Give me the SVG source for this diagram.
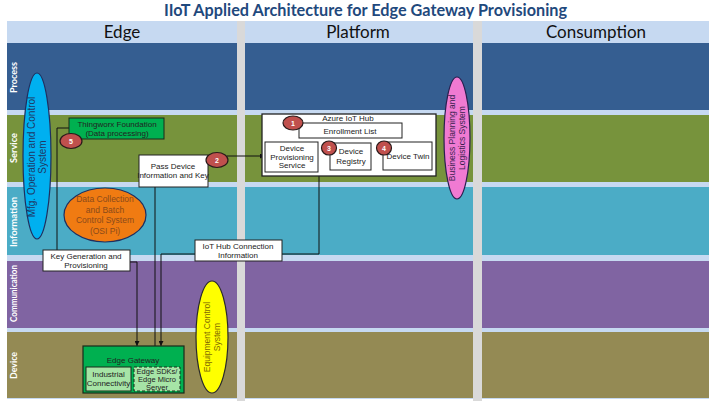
<svg xmlns="http://www.w3.org/2000/svg" width="715" height="402" viewBox="0 0 715 402">
<defs>
<marker id="arr" viewBox="0 0 10 10" refX="10" refY="5" markerWidth="5" markerHeight="5" orient="auto-start-reverse">
<path d="M0,0 L10,5 L0,10 z" fill="#111"/>
</marker>
</defs>
<style>
.title{font-family:"Lato","Liberation Sans",sans-serif;font-weight:bold;font-size:17px;fill:#1f497d}
.col{font-family:"Lato","Liberation Sans",sans-serif;font-size:17px;fill:#111}
.row{font-family:"Lato","Liberation Sans",sans-serif;font-weight:bold;font-size:9.5px;fill:#fff}
.t{font-family:"Liberation Sans",Arial,sans-serif;font-size:8px;fill:#222;text-anchor:middle}
.box{fill:#fff;stroke:#222;stroke-width:1}
.badge{fill:#c0504d;stroke:#2a1a1a;stroke-width:1.2}
.bt{font-family:"Liberation Sans",Arial,sans-serif;font-size:7px;font-weight:bold;fill:#fff;text-anchor:middle}
.ln{fill:none;stroke:#111;stroke-width:1}
</style>
<rect x="0" y="0" width="715" height="402" fill="#fff"/>
<text class="title" x="365.5" y="16" text-anchor="middle" textLength="403" lengthAdjust="spacingAndGlyphs">IIoT Applied Architecture for Edge Gateway Provisioning</text>
<g id="lanes">
<rect x="7" y="21" width="702" height="378" fill="#c6d9f1"/>
<rect x="237" y="21" width="8" height="380" fill="#d9d9d9"/>
<rect x="473" y="21" width="9" height="380" fill="#d9d9d9"/>
<g id="bands-edge">
<rect x="7" y="43" width="230" height="67" fill="#355e91"/>
<rect x="7" y="115" width="230" height="67" fill="#77933c"/>
<rect x="7" y="187" width="230" height="68" fill="#4bacc6"/>
<rect x="7" y="261" width="230" height="67" fill="#8064a2"/>
<rect x="7" y="332" width="230" height="66" fill="#948a54"/>
</g>
<g id="bands-platform">
<rect x="245" y="43" width="228" height="67" fill="#355e91"/>
<rect x="245" y="115" width="228" height="67" fill="#77933c"/>
<rect x="245" y="187" width="228" height="68" fill="#4bacc6"/>
<rect x="245" y="261" width="228" height="67" fill="#8064a2"/>
<rect x="245" y="332" width="228" height="66" fill="#948a54"/>
</g>
<g id="bands-consumption">
<rect x="482" y="43" width="227" height="67" fill="#355e91"/>
<rect x="482" y="115" width="227" height="67" fill="#77933c"/>
<rect x="482" y="187" width="227" height="68" fill="#4bacc6"/>
<rect x="482" y="261" width="227" height="67" fill="#8064a2"/>
<rect x="482" y="332" width="227" height="66" fill="#948a54"/>
</g>
<text class="col" x="122" y="38" text-anchor="middle">Edge</text>
<text class="col" x="358" y="38" text-anchor="middle">Platform</text>
<text class="col" x="596" y="38" text-anchor="middle">Consumption</text>
<text class="row" transform="translate(17,77.5) rotate(-90)" text-anchor="middle" textLength="31" lengthAdjust="spacingAndGlyphs">Process</text>
<text class="row" transform="translate(17,148) rotate(-90)" text-anchor="middle" textLength="30" lengthAdjust="spacingAndGlyphs">Service</text>
<text class="row" transform="translate(17,222) rotate(-90)" text-anchor="middle" textLength="50" lengthAdjust="spacingAndGlyphs">Information</text>
<text class="row" transform="translate(17,293.5) rotate(-90)" text-anchor="middle" textLength="57" lengthAdjust="spacingAndGlyphs">Communication</text>
<text class="row" transform="translate(17,365.5) rotate(-90)" text-anchor="middle" textLength="27" lengthAdjust="spacingAndGlyphs">Device</text>
</g>
<g id="connectors">
<polyline class="ln" points="69,128 57,128 57,250"/>
<polyline class="ln" points="130,262 137,262 137,346" marker-end="url(#arr)"/>
<line class="ln" x1="155" y1="187" x2="155" y2="346"/>
<line class="ln" x1="227" y1="156" x2="265" y2="156" marker-end="url(#arr)"/>
<polyline class="ln" points="319,176 319,254 161,254 161,346" marker-end="url(#arr)"/>
<line class="ln" x1="318" y1="157" x2="330" y2="157" marker-start="url(#arr)" marker-end="url(#arr)"/>
<line class="ln" x1="371" y1="156" x2="383" y2="156" marker-start="url(#arr)" marker-end="url(#arr)"/>
</g>
<g id="mfg">
<ellipse cx="37" cy="156" rx="14" ry="83" fill="#00b0f0" stroke="#1f2f5f" stroke-width="1.2"/>
<text class="t" style="font-size:10px;fill:#1f3864" transform="translate(37,157) rotate(-90)"><tspan x="0" y="-2.5">Mfg. Operation and Control</tspan><tspan x="0" y="9">System</tspan></text>
</g>
<g id="thingworx">
<rect x="69" y="118" width="95" height="21" fill="#00b050" stroke="#1a2a1a"/>
<text class="t" x="117" y="127">Thingworx Foundation</text>
<text class="t" x="117" y="136">(Data processing)</text>
<ellipse class="badge" cx="71" cy="141" rx="11" ry="7.5"/>
<text class="bt" x="71" y="143.5">5</text>
</g>
<g id="pass-device">
<rect class="box" x="139" y="155" width="69" height="32"/>
<text class="t" x="173" y="169">Pass Device</text>
<text class="t" x="173" y="178">Information and Key</text>
<ellipse class="badge" cx="217" cy="160" rx="11" ry="7.5"/>
<text class="bt" x="217" y="162.5">2</text>
</g>
<g id="azure-hub">
<rect x="262" y="114" width="174" height="62" fill="#fff" stroke="#222" stroke-width="1.3"/>
<text class="t" x="348" y="121">Azure IoT Hub</text>
<g id="enrollment">
<rect class="box" x="299" y="123" width="103" height="15"/>
<text class="t" x="350" y="134">Enrollment List</text>
<ellipse class="badge" cx="293" cy="123" rx="10" ry="7"/>
<text class="bt" x="293" y="125.5">1</text>
</g>
<g id="dps">
<rect class="box" x="265" y="142" width="53" height="30"/>
<text class="t" x="292" y="151">Device</text>
<text class="t" x="292" y="159.5">Provisioning</text>
<text class="t" x="292" y="168">Service</text>
</g>
<g id="registry">
<rect class="box" x="330" y="143" width="41" height="27"/>
<text class="t" x="351" y="154">Device</text>
<text class="t" x="351" y="163.5">Registry</text>
<ellipse class="badge" cx="329" cy="148" rx="7.5" ry="7"/>
<text class="bt" x="329" y="150.5">3</text>
</g>
<g id="twin">
<rect class="box" x="383" y="142" width="49" height="28"/>
<text class="t" x="408" y="159">Device Twin</text>
<ellipse class="badge" cx="384" cy="148" rx="7.5" ry="7"/>
<text class="bt" x="384" y="150.5">4</text>
</g>
</g>
<g id="business">
<ellipse cx="457" cy="138" rx="13" ry="61" fill="#f07ad2" stroke="#2a1f4f" stroke-width="1.2"/>
<text class="t" style="font-size:8.5px;fill:#3a1f4f" transform="translate(457,138) rotate(-90)"><tspan x="0" y="-2">Business Planning and</tspan><tspan x="0" y="8">Logistics System</tspan></text>
</g>
<g id="data-collection">
<ellipse cx="105" cy="215" rx="41" ry="27" fill="#f07b12" stroke="#1f2f5f" stroke-width="1.2"/>
<text class="t" style="font-size:8.5px;fill:#8a4a1a" x="105" y="202">Data Collection</text>
<text class="t" style="font-size:8.5px;fill:#8a4a1a" x="105" y="212.5">and Batch</text>
<text class="t" style="font-size:8.5px;fill:#8a4a1a" x="105" y="223">Control System</text>
<text class="t" style="font-size:8.5px;fill:#8a4a1a" x="105" y="233.5">(OSI Pi)</text>
</g>
<g id="key-gen">
<rect class="box" x="43" y="250" width="87" height="21"/>
<text class="t" x="86" y="259">Key Generation and</text>
<text class="t" x="86" y="268">Provisioning</text>
</g>
<g id="iot-hub-conn">
<rect class="box" x="195" y="240" width="87" height="21"/>
<text class="t" x="238" y="249">IoT Hub Connection</text>
<text class="t" x="238" y="258">Information</text>
</g>
<g id="equipment">
<ellipse cx="212" cy="337" rx="16" ry="56" fill="#ffff00" stroke="#2a2a2a" stroke-width="1.2"/>
<text class="t" style="font-size:8.5px;fill:#7f6a00" transform="translate(212,337) rotate(-90)"><tspan x="0" y="-2">Equipment Control</tspan><tspan x="0" y="8">System</tspan></text>
</g>
<g id="edge-gateway">
<rect x="83" y="346" width="101" height="47" fill="#00b050" stroke="#1a2a1a" stroke-width="1.2"/>
<text class="t" x="133" y="363">Edge Gateway</text>
<g id="industrial">
<rect x="86" y="367" width="45" height="24" fill="#a6e4a6" stroke="#1a2a1a"/>
<text class="t" x="108.5" y="377">Industrial</text>
<text class="t" x="108.5" y="386">Connectivity</text>
</g>
<g id="sdk">
<rect x="134" y="367" width="46" height="24" fill="#a6e4a6" stroke="#1a2a1a" stroke-dasharray="3,2"/>
<text class="t" style="font-size:7.5px" x="157" y="373.5">Edge SDKs/</text>
<text class="t" style="font-size:7.5px" x="157" y="381.5">Edge Micro</text>
<text class="t" style="font-size:7.5px" x="157" y="389.5">Server</text>
</g>
</g>
</svg>
